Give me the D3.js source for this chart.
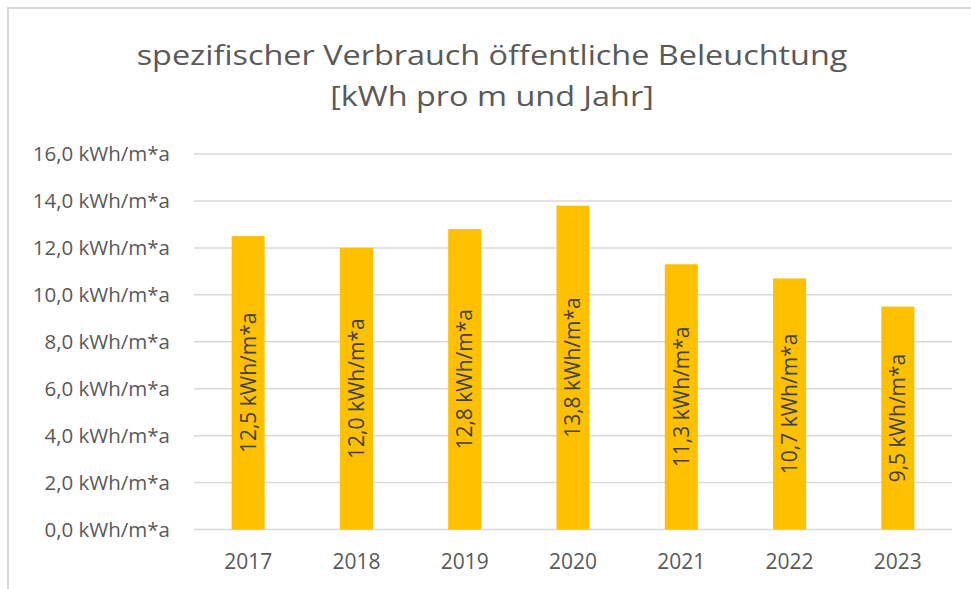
<!DOCTYPE html>
<html>
<head>
<meta charset="utf-8">
<script src="https://cdn.jsdelivr.net/npm/d3@7"></script>
<style>
  body { margin: 0; background: #fff; }
  text { font-family: "Open Sans", "Noto Sans", sans-serif; }
</style>
</head>
<body>
<script>
// data
const years = ["2017", "2018", "2019", "2020", "2021", "2022", "2023"];
const values = [12.5, 12.0, 12.8, 13.8, 11.3, 10.7, 9.5];
const yTicks = [0, 2, 4, 6, 8, 10, 12, 14, 16];
const titleLines = ["spezifischer Verbrauch öffentliche Beleuchtung", "[kWh pro m und Jahr]"];

const W = 971, H = 589;
const margin = {top: 154, right: 19, bottom: 59.5, left: 194};
const width = W - margin.left - margin.right;
const height = H - margin.top - margin.bottom;

const fmt = v => d3.format(".1f")(v).replace(".", ",") + " kWh/m*a";

const svg = d3.select("body").append("svg")
    .attr("width", W)
    .attr("height", H);

// outer chart frame (only top and left visible)
svg.append("path")
    .attr("d", "M8," + H + "V8H" + W)
    .attr("fill", "none")
    .attr("stroke", "#d9d9d9")
    .attr("stroke-width", 2);

// title (stretched horizontally like the source picture)
svg.append("text")
    .attr("transform", "translate(492,64.5) scale(1.2,1)")
    .attr("text-anchor", "middle")
    .attr("fill", "#595959")
    .style("font-size", "27px")
    .selectAll("tspan")
    .data(titleLines)
    .join("tspan")
        .attr("x", 0)
        .attr("dy", (d, i) => i ? 42 : 0)
        .text(d => d);

const g = svg.append("g")
    .attr("transform", "translate(" + margin.left + "," + margin.top + ")");

const x = d3.scaleBand()
    .domain(years)
    .range([0, width])
    .paddingInner(0.695)
    .paddingOuter(0.3475);

const y = d3.scaleLinear()
    .domain([0, 16])
    .range([height, 0]);

// gridlines
g.append("g")
    .selectAll("line")
    .data(yTicks)
    .join("line")
        .attr("x1", 0)
        .attr("x2", width)
        .attr("y1", d => y(d))
        .attr("y2", d => y(d))
        .attr("stroke", "#d9d9d9")
        .attr("stroke-width", 1.5);

// y axis labels
const yAxis = g.append("g")
    .call(d3.axisLeft(y).tickValues(yTicks).tickFormat(fmt).tickSize(0).tickPadding(24));
yAxis.select(".domain").remove();
yAxis.selectAll("text")
    .attr("fill", "#595959")
    .style("font-size", "20.5px")
    .style("font-family", '"Open Sans", sans-serif');

// x axis labels
const xAxis = g.append("g")
    .attr("transform", "translate(0," + height + ")")
    .call(d3.axisBottom(x).tickSize(0).tickPadding(25));
xAxis.select(".domain").remove();
xAxis.selectAll("text")
    .attr("fill", "#595959")
    .style("font-size", "21px")
    .style("font-family", '"Open Sans", sans-serif');

// bars
g.selectAll("rect.bar")
    .data(values)
    .join("rect")
        .attr("class", "bar")
        .attr("x", (d, i) => x(years[i]))
        .attr("y", d => y(d))
        .attr("width", x.bandwidth())
        .attr("height", d => height - y(d))
        .attr("fill", "#ffc000");

// value labels, rotated, centred in bar
g.selectAll("text.val")
    .data(values)
    .join("text")
        .attr("class", "val")
        .attr("transform", (d, i) => "translate(" + (x(years[i]) + x.bandwidth() / 2) + "," + ((y(d) + height) / 2) + ") rotate(-90)")
        .attr("text-anchor", "middle")
        .attr("dy", "0.35em")
        .attr("fill", "#404040")
        .style("font-size", "21px")
        .text(fmt);
</script>
</body>
</html>
